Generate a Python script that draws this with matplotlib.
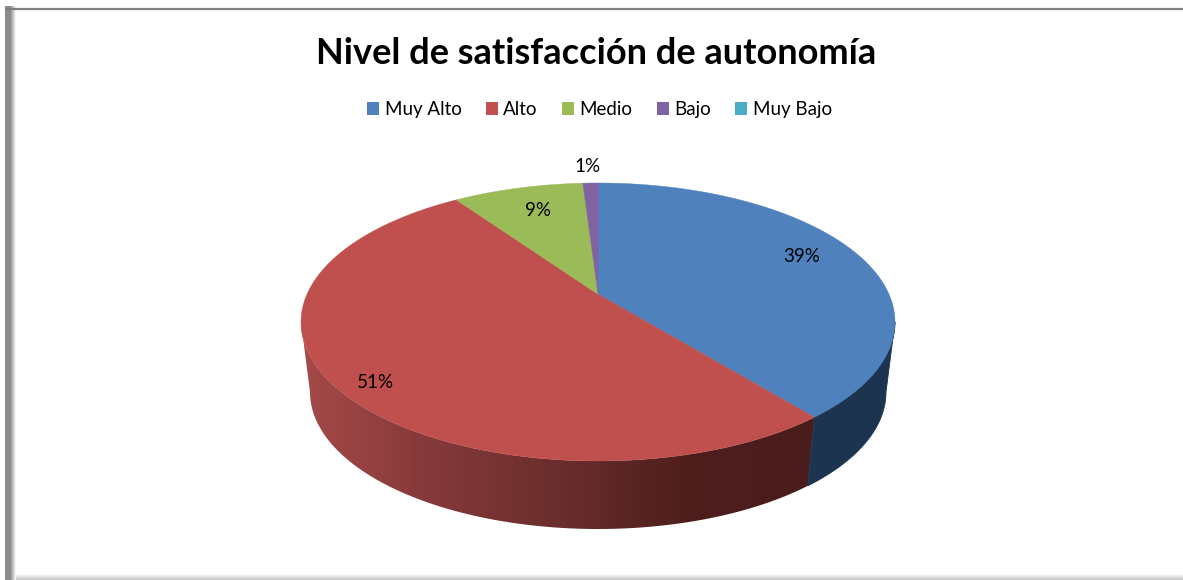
import numpy as np
import matplotlib
matplotlib.use("Agg")
import matplotlib.pyplot as plt
from matplotlib.colors import LinearSegmentedColormap
from matplotlib.patches import Polygon

categories = ["Muy Alto", "Alto", "Medio", "Bajo", "Muy Bajo"]
values = [39.2, 51.2, 8.6, 1.0, 0]
colors = ["#4f81bd", "#c0504d", "#9bbb59", "#8064a2", "#4bacc6"]
title = "Nivel de satisfacción de autonomía"

# pie geometry in pixels, the axes below run in image coordinates
cx, cy, rx, ry = 598, 322, 297, 139
cx2, cy2, rx2, ry2 = 598, 392, 288, 137
persp = 0.2
label_pos = [(802, 256), (375.5, 383), (538, 210), (588, 167)]

plt.rcParams["font.family"] = ["Lato", "DejaVu Sans"]
fig = plt.figure(figsize=(11.83, 5.80), dpi=100)
ax = fig.add_axes([0, 0, 1, 1])


def warp(t):
    # true pie angle (clockwise from top) to the angle seen with perspective
    t = np.radians(t)
    x, y = np.sin(t), np.cos(t)
    x2 = x * np.sqrt(1 - persp ** 2) / (1 + persp * y)
    y2 = (y + persp) / (1 + persp * y)
    return np.degrees(np.arctan2(x2, y2)) % 360


def arc(a, b, c_x, c_y, r_x, r_y):
    p = np.radians(np.linspace(a, b, 200))
    return np.column_stack([c_x + r_x * np.sin(p), c_y - r_y * np.cos(p)])


edges = np.cumsum([0] + values) * 3.6
starts = [warp(e) for e in edges[:-1]]
ends = [warp(e) if e < 360 else 360 for e in edges[1:]]

# side wall, only the front half of the pie shows it
wall_red = arc(starts[1], 270, cx, cy, rx, ry)
wall_red2 = arc(270, starts[1], cx2, cy2, rx2, ry2)
red_shade = LinearSegmentedColormap.from_list(
    "wall", ["#a64a49", "#85393a", "#6a2e2d", "#4e1e1d", "#4a1c1b"])
img = ax.imshow(np.linspace(1, 0, 256)[None, :], cmap=red_shade, aspect="auto",
                extent=(815, 300, 530, 320), zorder=2)
clip = Polygon(np.vstack([wall_red, wall_red2]), fc="none", ec="none", transform=ax.transData)
ax.add_patch(clip)
img.set_clip_path(clip)

wall_blue = arc(90, ends[0], cx, cy, rx, ry)
wall_blue2 = arc(ends[0], 90, cx2, cy2, rx2, ry2)
ax.add_patch(Polygon(np.vstack([wall_blue, wall_blue2]), fc="#1d3450", ec="#1d3450", lw=0.6, zorder=2))

# top face, the slices meet where the pie centre lands under perspective
apex = [cx, cy - ry * persp]
for start, end, color, value in zip(starts, ends, colors, values):
    if value == 0:
        continue
    pts = np.vstack([apex, arc(start, end, cx, cy, rx, ry)])
    ax.add_patch(Polygon(pts, fc=color, ec=color, lw=0.3, zorder=3))

for (x, y), value in zip(label_pos, values):
    ax.text(x, y, f"{value:.0f}%", ha="center", va="center", fontsize=13.5, color="black", zorder=4)

ax.text(596.5, 53, title, ha="center", va="center", fontsize=26, fontweight="bold", color="black")

handles = [plt.Rectangle((0, 0), 1, 1, fc=c, ec="none") for c in colors]
ax.legend(handles, categories, ncol=5, loc="center", bbox_to_anchor=(599.5 / 1183, 1 - 109.5 / 580),
          frameon=False, fontsize=13.5, handlelength=0.65, handleheight=0.65, handletextpad=0.3,
          columnspacing=1.28, borderpad=0)

# frame of the screenshot
grey = LinearSegmentedColormap.from_list("frame", ["#8c8c8c", "#8c8c8c", "#ffffff"])
ax.imshow(np.linspace(0, 1, 64)[None, :], cmap=grey, aspect="auto", extent=(5, 16, 580, 6), zorder=1)
ax.imshow(np.linspace(0, 1, 32)[:, None], cmap=LinearSegmentedColormap.from_list("b", ["#ffffff", "#c4c4c4"]),
          aspect="auto", extent=(5, 1183, 580, 574), origin="upper", zorder=0)
ax.plot([5, 1183], [9.3, 9.3], color="#808080", lw=1.6, zorder=1, solid_capstyle="butt")

ax.set_xlim(0, 1183)
ax.set_ylim(580, 0)
ax.axis("off")
fig.savefig("out.png", dpi=100, facecolor="white")
